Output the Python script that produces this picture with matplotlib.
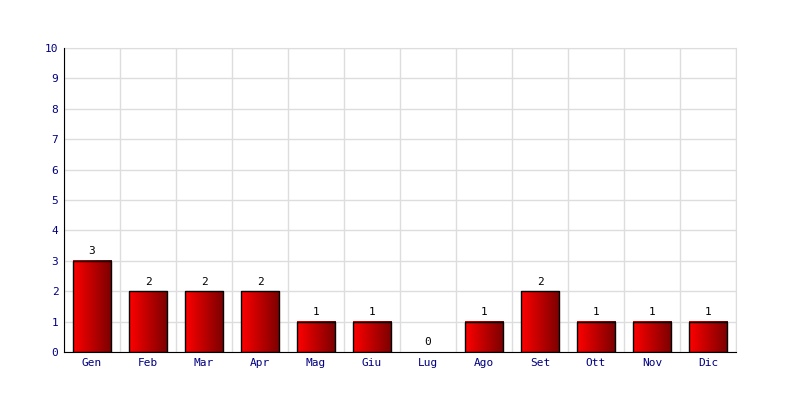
import numpy as np
import matplotlib
matplotlib.use("Agg")
import matplotlib.pyplot as plt
from matplotlib.colors import LinearSegmentedColormap

months = ["Gen", "Feb", "Mar", "Apr", "Mag", "Giu", "Lug", "Ago", "Set", "Ott", "Nov", "Dic"]
values = [3, 2, 2, 2, 1, 1, 0, 1, 2, 1, 1, 1]
yticks = list(range(0, 11))

plt.rcParams['font.family'] = ['DejaVu Sans Mono']
fig = plt.figure(figsize=(8, 4), dpi=100)
ax = fig.add_axes([0.08, 0.12, 0.84, 0.76])

n = len(months)
cmap = LinearSegmentedColormap.from_list("rg", ["#ff0000", "#7a0000"])
grad = np.linspace(0, 1, 256).reshape(1, -1)
w = 0.68
for i, v in enumerate(values):
    if v > 0:
        ax.imshow(grad, cmap=cmap, aspect='auto', extent=(i - w / 2, i + w / 2, 0, v), zorder=2)
        ax.add_patch(plt.Rectangle((i - w / 2, 0), w, v, fill=False, edgecolor='black', linewidth=1, zorder=3))
    ax.text(i, v + 0.15, str(v), ha='center', va='bottom', fontsize=8, color='black', zorder=4)
ax.set_xlim(-0.5, n - 0.5)
ax.set_ylim(0, 10)

ax.set_xticks(range(n))
ax.set_xticklabels(months)
ax.set_yticks(yticks)
ax.set_xticks(np.arange(-0.5, n, 1), minor=True)
ax.tick_params(axis='both', which='both', length=0, labelsize=8, labelcolor='#000080', pad=4)
ax.grid(True, which='major', axis='y', color='#dddddd', linewidth=1, zorder=0)
ax.grid(True, which='minor', axis='x', color='#dddddd', linewidth=1, zorder=0)
ax.set_axisbelow(True)
for s in ['top', 'right']:
    ax.spines[s].set_color('#dddddd')
for s in ['left', 'bottom']:
    ax.spines[s].set_color('black')
    ax.spines[s].set_zorder(5)

fig.savefig("out.png", dpi=100)
